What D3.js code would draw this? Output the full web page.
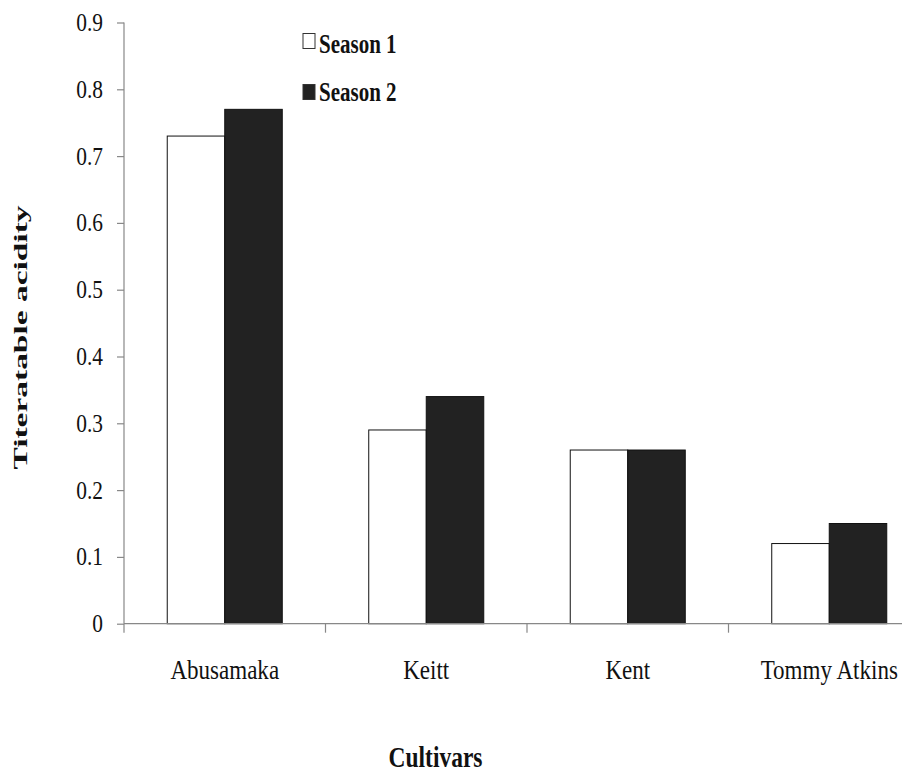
<!DOCTYPE html>
<html>
<head>
<meta charset="utf-8">
<script src="https://cdn.jsdelivr.net/npm/d3@7"></script>
<style>
  html, body { margin: 0; padding: 0; background: #fff; }
  svg { display: block; }
</style>
</head>
<body>
<svg id="chart" width="902" height="776"></svg>
<script>
const categories = ["Abusamaka", "Keitt", "Kent", "Tommy Atkins"];
const seriesNames = ["Season 1", "Season 2"];
const season1 = [0.73, 0.29, 0.26, 0.12];
const season2 = [0.77, 0.34, 0.26, 0.15];
const yTicks = [0, 0.1, 0.2, 0.3, 0.4, 0.5, 0.6, 0.7, 0.8, 0.9];
const yTickLabels = ["0", "0.1", "0.2", "0.3", "0.4", "0.5", "0.6", "0.7", "0.8", "0.9"];
const yTitle = "Titeratable acidity";
const xTitle = "Cultivars";

const seriesValues = [season1, season2];
const seriesFill = ["#ffffff", "#222222"];
const FONT = "'Liberation Serif', Tinos, 'Times New Roman', Times, serif";

const svg = d3.select("#chart");

const y = d3.scaleLinear().domain([0, 0.9]).range([623.7, 22.5]);
const x = d3.scaleBand().domain(categories).range([124, 930]).paddingInner(0).paddingOuter(0);
const x1 = d3.scaleBand().domain(seriesNames).range([0, x.bandwidth()]).paddingInner(0).paddingOuter(0.752);

const axisColor = "#888888";

// Bars
const groups = svg.append("g").selectAll("g")
  .data(categories)
  .join("g")
  .attr("transform", d => `translate(${x(d)},0)`);

groups.selectAll("rect")
  .data((c, i) => seriesNames.map((s, k) => ({ s, v: seriesValues[k][i], k })))
  .join("rect")
  .attr("x", d => x1(d.s))
  .attr("y", d => y(d.v))
  .attr("width", x1.bandwidth())
  .attr("height", d => y(0) - y(d.v))
  .attr("fill", d => seriesFill[d.k])
  .attr("stroke", "#111")
  .attr("stroke-width", 1);

// Y axis
const yAxis = svg.append("g").attr("transform", "translate(124,0)")
  .call(d3.axisLeft(y).tickValues(yTicks).tickSize(7).tickFormat(""));
yAxis.selectAll("path, line").attr("stroke", axisColor).attr("stroke-width", 1.2);
yAxis.select("path").attr("d", `M0,${y(0.9)}V${y(0)}`);

// Y tick labels
svg.append("g").selectAll("text")
  .data(yTicks)
  .join("text")
  .attr("font-family", FONT)
  .attr("fill", "#111")
  .attr("text-anchor", "end")
  .attr("font-size", 23)
  .attr("transform", (d) => `translate(103,${y(d) + 8.5}) scale(0.93,1.05)`)
  .text((d, i) => yTickLabels[i]);

// X axis
const bounds = categories.map(c => x(c)).concat([x.range()[1]]);
const xAxisG = svg.append("g");
xAxisG.append("line")
  .attr("x1", 124).attr("x2", 930)
  .attr("y1", y(0)).attr("y2", y(0))
  .attr("stroke", axisColor).attr("stroke-width", 1.2);
xAxisG.selectAll("line.tick")
  .data(bounds)
  .join("line")
  .attr("class", "tick")
  .attr("x1", d => d).attr("x2", d => d)
  .attr("y1", y(0)).attr("y2", y(0) + 9)
  .attr("stroke", axisColor).attr("stroke-width", 1.2);

// Category labels
svg.append("g").selectAll("text")
  .data(categories)
  .join("text")
  .attr("font-family", FONT)
  .attr("fill", "#111")
  .attr("text-anchor", "middle")
  .attr("font-size", 24)
  .attr("transform", d => `translate(${x(d) + x.bandwidth() / 2},679) scale(0.96,1.15)`)
  .text(d => d);

// X title
svg.append("text")
  .attr("font-family", FONT)
  .attr("fill", "#111")
  .attr("text-anchor", "middle")
  .attr("font-size", 27)
  .attr("font-weight", "bold")
  .attr("transform", "translate(435.5,767) scale(0.87,1.08)")
  .text(xTitle);

// Y title
svg.append("text")
  .attr("font-family", FONT)
  .attr("fill", "#111")
  .attr("text-anchor", "middle")
  .attr("font-size", 19)
  .attr("font-weight", "bold")
  .attr("transform", "translate(27,337.5) rotate(-90) scale(1.76,1)")
  .text(yTitle);

// Legend
const legendY = [33.5, 84.5];
const legendBase = [53, 101];
const legend = svg.append("g").selectAll("g")
  .data(seriesNames)
  .join("g");
legend.append("rect")
  .attr("x", 303)
  .attr("y", (d, i) => legendY[i])
  .attr("width", 12)
  .attr("height", 15)
  .attr("fill", (d, i) => seriesFill[i])
  .attr("stroke", "#333")
  .attr("stroke-width", 1);
legend.append("text")
  .attr("font-family", FONT)
  .attr("fill", "#111")
  .attr("font-size", 25)
  .attr("font-weight", "bold")
  .attr("transform", (d, i) => `translate(319,${legendBase[i]}) scale(0.84,1.12)`)
  .text(d => d);
</script>
</body>
</html>
